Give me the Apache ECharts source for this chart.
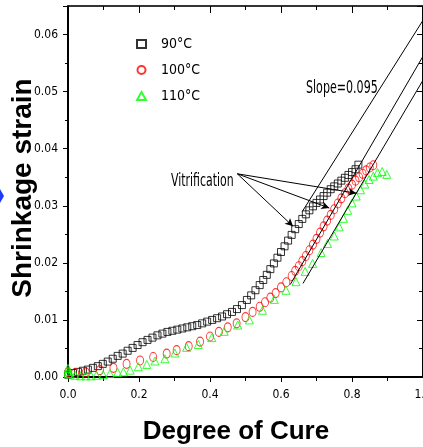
<!DOCTYPE html>
<html>
<head>
<meta charset="utf-8">
<script src="https://cdn.jsdelivr.net/npm/echarts@6/dist/echarts.min.js"></script>
<style>
  html, body { margin: 0; padding: 0; background: #fff; }
  #chart { width: 423px; height: 447px; }
</style>
</head>
<body>
<div id="chart"></div>
<script>
// 数据：固化度 vs 收缩应变
const cure90 = [0.000, 0.014, 0.028, 0.042, 0.056, 0.070, 0.084, 0.098, 0.112, 0.126, 0.140, 0.154, 0.168, 0.182, 0.196, 0.210, 0.224, 0.238, 0.252, 0.266, 0.280, 0.294, 0.308, 0.322, 0.336, 0.350, 0.364, 0.378, 0.392, 0.406, 0.420, 0.434, 0.448, 0.462, 0.476, 0.490, 0.504, 0.516, 0.528, 0.540, 0.550, 0.560, 0.570, 0.580, 0.590, 0.600, 0.610, 0.620, 0.630, 0.640, 0.650, 0.660, 0.670, 0.680, 0.690, 0.700, 0.710, 0.720, 0.730, 0.740, 0.750, 0.760, 0.770, 0.780, 0.790, 0.800, 0.810, 0.818];
const strain90 = [0.0004, 0.0007, 0.0009, 0.0011, 0.0013, 0.0016, 0.0019, 0.0023, 0.0027, 0.0032, 0.0037, 0.0041, 0.0046, 0.0051, 0.0056, 0.0061, 0.0065, 0.0069, 0.0073, 0.0076, 0.0079, 0.0081, 0.0083, 0.0085, 0.0087, 0.0089, 0.0091, 0.0094, 0.0097, 0.0100, 0.0103, 0.0106, 0.0110, 0.0114, 0.0119, 0.0126, 0.0135, 0.0143, 0.0152, 0.0161, 0.0170, 0.0179, 0.0189, 0.0199, 0.0209, 0.0219, 0.0229, 0.0239, 0.0249, 0.0259, 0.0268, 0.0277, 0.0285, 0.0292, 0.0299, 0.0305, 0.0311, 0.0317, 0.0323, 0.0329, 0.0334, 0.0339, 0.0344, 0.0349, 0.0354, 0.0359, 0.0364, 0.0372];

const cure100 = [0.000, 0.020, 0.050, 0.090, 0.128, 0.165, 0.203, 0.240, 0.278, 0.306, 0.340, 0.372, 0.400, 0.425, 0.450, 0.475, 0.500, 0.520, 0.540, 0.555, 0.570, 0.585, 0.600, 0.615, 0.630, 0.640, 0.650, 0.660, 0.670, 0.680, 0.690, 0.700, 0.710, 0.720, 0.730, 0.740, 0.750, 0.760, 0.770, 0.780, 0.790, 0.800, 0.810, 0.820, 0.830, 0.840, 0.850, 0.860];
const strain100 = [0.0008, 0.0007, 0.0008, 0.0012, 0.0016, 0.0023, 0.0029, 0.0035, 0.0041, 0.0047, 0.0054, 0.0062, 0.0071, 0.0079, 0.0087, 0.0094, 0.0105, 0.0114, 0.0123, 0.0131, 0.0139, 0.0147, 0.0157, 0.0166, 0.0177, 0.0186, 0.0194, 0.0203, 0.0212, 0.0222, 0.0232, 0.0242, 0.0253, 0.0264, 0.0274, 0.0284, 0.0294, 0.0304, 0.0313, 0.0322, 0.0330, 0.0337, 0.0344, 0.0350, 0.0356, 0.0362, 0.0367, 0.0371];

const cure110 = [0.000, 0.000, 0.000, 0.006, 0.020, 0.035, 0.050, 0.065, 0.080, 0.099, 0.118, 0.140, 0.156, 0.175, 0.198, 0.222, 0.245, 0.273, 0.301, 0.334, 0.367, 0.405, 0.440, 0.478, 0.511, 0.548, 0.581, 0.614, 0.642, 0.668, 0.689, 0.713, 0.731, 0.750, 0.764, 0.776, 0.788, 0.800, 0.812, 0.824, 0.836, 0.848, 0.860, 0.872, 0.885, 0.898];
const strain110 = [0.0015, 0.0010, 0.0006, 0.0005, 0.0003, 0.0002, 0.0002, 0.0002, 0.0003, 0.0004, 0.0006, 0.0008, 0.0009, 0.0012, 0.0018, 0.0022, 0.0028, 0.0032, 0.0042, 0.0052, 0.0057, 0.0069, 0.0080, 0.0091, 0.0100, 0.0117, 0.0136, 0.0152, 0.0167, 0.0185, 0.0199, 0.0218, 0.0234, 0.0247, 0.0263, 0.0278, 0.0292, 0.0305, 0.0317, 0.0328, 0.0338, 0.0346, 0.0352, 0.0358, 0.0360, 0.0355];

// 斜率线：[起点, 终点]
const slopeLines = [
  [[0.660, 0.0290], [1.000, 0.0625]],
  [[0.626, 0.0162], [1.000, 0.0562]],
  [[0.662, 0.0164], [1.000, 0.0520]]
];
// 玻璃化箭头：从文字指向曲线
const arrowStart = [0.477, 0.0356];
const arrowEnds = [[0.634, 0.0264], [0.736, 0.0296], [0.812, 0.0322]];

const xTicks = [0, 0.2, 0.4, 0.6, 0.8, 1.0];
const yTicks = [0, 0.01, 0.02, 0.03, 0.04, 0.05, 0.06];

const seriesNames = ['90°C', '100°C', '110°C'];

const zip = (xs, ys) => xs.map((x, i) => [x, ys[i]]);

const narrow = '"Liberation Sans Narrow", "DejaVu Sans Condensed", "Liberation Sans", sans-serif';
const boldFont = '"Liberation Sans", Arial, sans-serif';

const chart = echarts.init(document.getElementById('chart'), null, { renderer: 'canvas' });

const tickBase = { lineStyle: { color: '#000', width: 1 } };

const option = {
  animation: false,
  backgroundColor: '#fff',
  grid: { left: 68, top: 6, right: 0, bottom: 70, outerBoundsMode: 'none' },
  legend: {
    orient: 'vertical',
    left: 131,
    top: 32,
    itemWidth: 9,
    itemHeight: 8,
    itemGap: 12,
    data: seriesNames,
    formatter: n => '{t|' + n + '}',
    textStyle: {
      color: '#000',
      rich: { t: { fontFamily: narrow, fontSize: 14, color: '#000', lineHeight: 15, padding: [0, 0, 0, 10] } }
    }
  },
  xAxis: [
    {
      type: 'value', position: 'bottom', min: 0, max: 1, interval: 0.2,
      axisLine: { lineStyle: { color: '#000', width: 2 } },
      axisTick: Object.assign({ length: 5 }, tickBase),
      minorTick: { show: true, splitNumber: 2, length: 4, lineStyle: { color: '#000', width: 1 } },
      splitLine: { show: false },
      axisLabel: {
        margin: 12, fontFamily: narrow, fontSize: 12, color: '#000',
        formatter: v => xTicks.some(t => Math.abs(t - v) < 1e-9) ? v.toFixed(1) : ''
      }
    },
    {
      type: 'value', position: 'top', min: 0, max: 1, interval: 0.2,
      axisLine: { onZero: false, lineStyle: { color: '#333', width: 2 } },
      axisTick: Object.assign({ inside: true, length: 7 }, tickBase),
      minorTick: { show: true, splitNumber: 2, length: 4, lineStyle: { color: '#000', width: 1 } },
      splitLine: { show: false },
      axisLabel: { show: false }
    }
  ],
  yAxis: [
    {
      type: 'value', position: 'left', min: 0, max: 0.065, interval: 0.01,
      axisLine: { show: true, lineStyle: { color: '#000', width: 2 } },
      axisTick: Object.assign({ show: true, length: 5 }, tickBase),
      minorTick: { show: true, splitNumber: 2, length: 3, lineStyle: { color: '#000', width: 1 } },
      splitLine: { show: false },
      axisLabel: {
        margin: 10, fontFamily: narrow, fontSize: 12, color: '#000',
        showMaxLabel: false,
        formatter: v => yTicks.some(t => Math.abs(t - v) < 1e-9) ? v.toFixed(2) : ''
      }
    },
    {
      type: 'value', position: 'right', min: 0, max: 0.065, interval: 0.01,
      axisLine: { show: true, onZero: false, lineStyle: { color: '#000', width: 2 } },
      axisTick: Object.assign({ show: true, inside: true, length: 6 }, tickBase),
      minorTick: { show: true, splitNumber: 2, length: 4, lineStyle: { color: '#000', width: 1 } },
      splitLine: { show: false },
      axisLabel: { show: false }
    }
  ],
  series: [
    {
      name: seriesNames[0], type: 'scatter', data: zip(cure90, strain90),
      symbol: 'rect', symbolSize: 7,
      itemStyle: { color: 'rgba(0,0,0,0)', borderColor: '#000', borderWidth: 1 }
    },
    {
      name: seriesNames[1], type: 'scatter', data: zip(cure100, strain100),
      symbol: 'circle', symbolSize: [7, 9],
      itemStyle: { color: 'rgba(0,0,0,0)', borderColor: '#ff0000', borderWidth: 1 }
    },
    {
      name: seriesNames[2], type: 'scatter', data: zip(cure110, strain110),
      symbol: 'triangle', symbolSize: 8,
      itemStyle: { color: 'rgba(0,0,0,0)', borderColor: '#00ff00', borderWidth: 1 }
    },
    {
      name: 'slope', type: 'line', data: [], silent: true,
      markLine: {
        silent: true, symbol: ['none', 'none'], label: { show: false },
        lineStyle: { color: '#000', width: 1, type: 'solid' },
        data: slopeLines.map(([a, b]) => [{ coord: a }, { coord: b }])
      }
    },
    {
      name: 'arrows', type: 'line', data: [], silent: true,
      markLine: {
        silent: true, symbol: ['none', 'arrow'], symbolSize: [6, 8], label: { show: false },
        lineStyle: { color: '#000', width: 1, type: 'solid' },
        data: arrowEnds.map(e => [{ coord: arrowStart }, { coord: e }])
      }
    }
  ],
  graphic: [
    {
      type: 'text', x: 23, y: 188, rotation: Math.PI / 2,
      style: {
        text: 'Shrinkage strain', font: 'bold 28px ' + boldFont, fill: '#000',
        align: 'center', verticalAlign: 'middle'
      }
    },
    {
      type: 'text', x: 236, y: 432,
      style: {
        text: 'Degree of Cure', font: 'bold 26px ' + boldFont, fill: '#000',
        align: 'center', verticalAlign: 'middle'
      }
    },
    {
      type: 'text', x: 306, y: 80, scaleX: 0.77, scaleY: 1.1,
      style: { text: 'Slope=0.095', font: '16px ' + narrow, fill: '#000', align: 'left', verticalAlign: 'alphabetic' }
    },
    {
      type: 'text', x: 171, y: 173, scaleX: 0.76, scaleY: 1.05,
      style: { text: 'Vitrification', font: '16px ' + narrow, fill: '#000', align: 'left', verticalAlign: 'alphabetic' }
    },
    {
      type: 'polygon',
      shape: { points: [[-4, 196], [0, 189], [4, 196], [0, 203]] },
      style: { fill: '#1a3cff' }
    }
  ]
};

chart.setOption(option);
</script>
</body>
</html>
